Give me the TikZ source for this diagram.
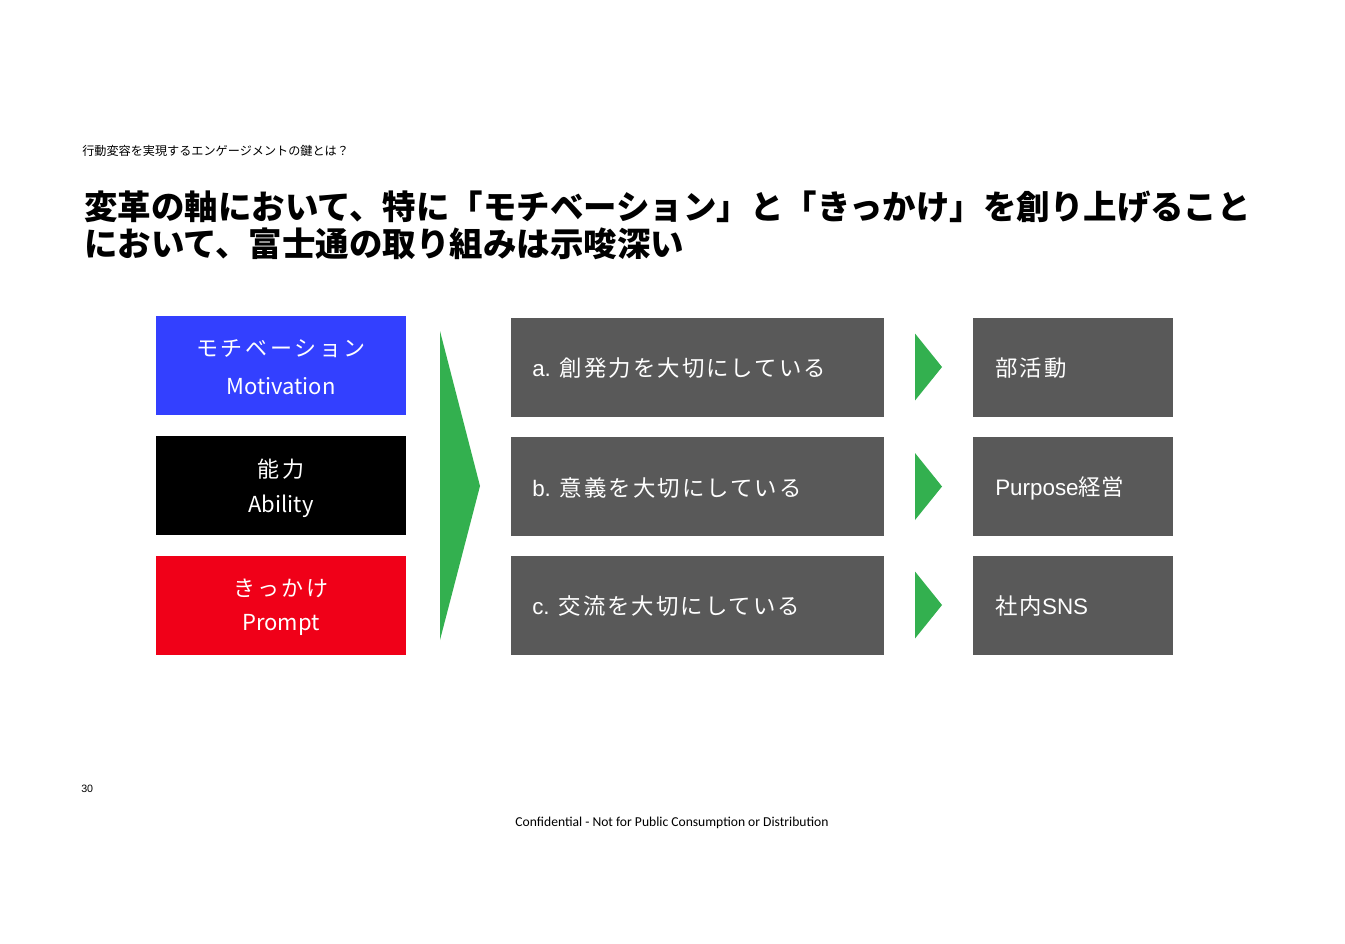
\documentclass[tikz,border=0pt]{standalone}
\usepackage{fontspec}
\newfontfamily\jp{Noto Sans CJK JP}
\newfontfamily\jpsp[LetterSpace=9]{Noto Sans CJK JP}
\newfontfamily\jpwide[LetterSpace=12]{Noto Sans CJK JP}
\newfontfamily\lib{Liberation Sans}
\newfontfamily\foot{Carlito}
\definecolor{mblue}{RGB}{51,64,255}
\definecolor{mred}{RGB}{240,0,24}
\definecolor{mgrey}{RGB}{89,89,89}
\definecolor{mgreen}{RGB}{51,176,79}
\newcommand{\cardtext}[2]{{\jpwide #1}\\[1pt]{\jp #2}}
\tikzset{
  cardbox/.style={draw=none, inner sep=0pt, minimum width=250*0.75pt, minimum height=99*0.75pt, text=white, align=center, font=\fontsize{16.5pt}{26pt}\selectfont},
  greybox/.style={fill=mgrey, draw=none, inner sep=0pt, minimum height=99*0.75pt},
  boxtext/.style={text=white, anchor=west, inner sep=0pt, font=\fontsize{16.8pt}{20pt}\selectfont},
  greentri/.style={fill=mgreen, draw=none},
}
\begin{document}
\begin{tikzpicture}[x=0.75pt, y=-0.75pt]
\useasboundingbox[fill=white] (0,0) rectangle (1345,943);
% header
\node[anchor=base west, inner sep=0pt, font=\jp\fontsize{9.1pt}{10pt}\selectfont] (sub) at (82,155) {行動変容を実現するエンゲージメントの鍵とは？};
\node[anchor=base west, inner sep=0pt, font=\jp\bfseries\fontsize{25.1pt}{28pt}\selectfont] (t1) at (84,219) {変革の軸において、特に「モチベーション」と「きっかけ」を創り上げること};
\node[anchor=base west, inner sep=0pt, font=\jp\bfseries\fontsize{25.1pt}{28pt}\selectfont] (t2) at (84,256) {において、富士通の取り組みは示唆深い};
% left boxes
\node[cardbox, fill=mblue] (mot) at (281,365.5) {};
\node[cardbox, fill=black] (abi) at (281,485.5) {};
\node[cardbox, fill=mred] (pro) at (281,605.5) {};
\node[cardbox, minimum height=0pt, minimum width=0pt] (motj) at (281,349) {\jpwide モチベーション};
\node[cardbox, minimum height=0pt, minimum width=0pt] (mote) at (281,386) {\jp Motivation};
\node[cardbox, minimum height=0pt, minimum width=0pt] (abij) at (281,469) {\jpwide 能力};
\node[cardbox, minimum height=0pt, minimum width=0pt] (abie) at (281,506) {\jp Ability};
\node[cardbox, minimum height=0pt, minimum width=0pt] (proj) at (281,588) {\jpwide きっかけ};
\node[cardbox, minimum height=0pt, minimum width=0pt] (proe) at (281,625) {\jp Prompt};
% big triangle
\coordinate (bt1) at (440,331);
\coordinate (bt2) at (480,486);
\coordinate (bt3) at (440,640);
\fill[mgreen] (bt1) -- (bt2) -- (bt3) -- cycle;
% middle boxes
\node[greybox, minimum width=373*0.75pt] (ma) at (697.5,367.5) {};
\node[greybox, minimum width=373*0.75pt] (mb) at (697.5,486.5) {};
\node[greybox, minimum width=373*0.75pt] (mc) at (697.5,605.5) {};
\node[boxtext] (mat) at (532,368) {{\lib a.} {\jpsp 創発力を大切にしている}};
\node[boxtext] (mbt) at (532,488) {{\lib b.} {\jpsp 意義を大切にしている}};
\node[boxtext] (mct) at (532,606) {{\lib c.} {\jpsp 交流を大切にしている}};
% small triangles
\foreach \yy/\nm in {367/a,486.5/b,605/c}{
  \coordinate (s\nm1) at (915,\yy-33.5);
  \coordinate (s\nm2) at (942,\yy);
  \coordinate (s\nm3) at (915,\yy+33.5);
  \fill[mgreen] (s\nm1) -- (s\nm2) -- (s\nm3) -- cycle;
}
% right boxes
\node[greybox, minimum width=200*0.75pt] (ra) at (1073,367.5) {};
\node[greybox, minimum width=200*0.75pt] (rb) at (1073,486.5) {};
\node[greybox, minimum width=200*0.75pt] (rc) at (1073,605.5) {};
\node[boxtext] (rat) at (995,368) {\jpsp 部活動};
\node[boxtext] (rbt) at (995,488) {{\lib Purpose}\jp 経営};
\node[boxtext] (rct) at (995,606) {{\jpsp 社内}\lib SNS};
% footer
\node[anchor=base west, inner sep=0pt, font=\lib\fontsize{8pt}{9pt}\selectfont] (pg) at (81,792) {30};
\node[anchor=base, inner sep=0pt, font=\foot\fontsize{10.2pt}{12pt}\selectfont] (conf) at (672,826) {Confidential - Not for Public Consumption or Distribution};
\end{tikzpicture}
\end{document}
